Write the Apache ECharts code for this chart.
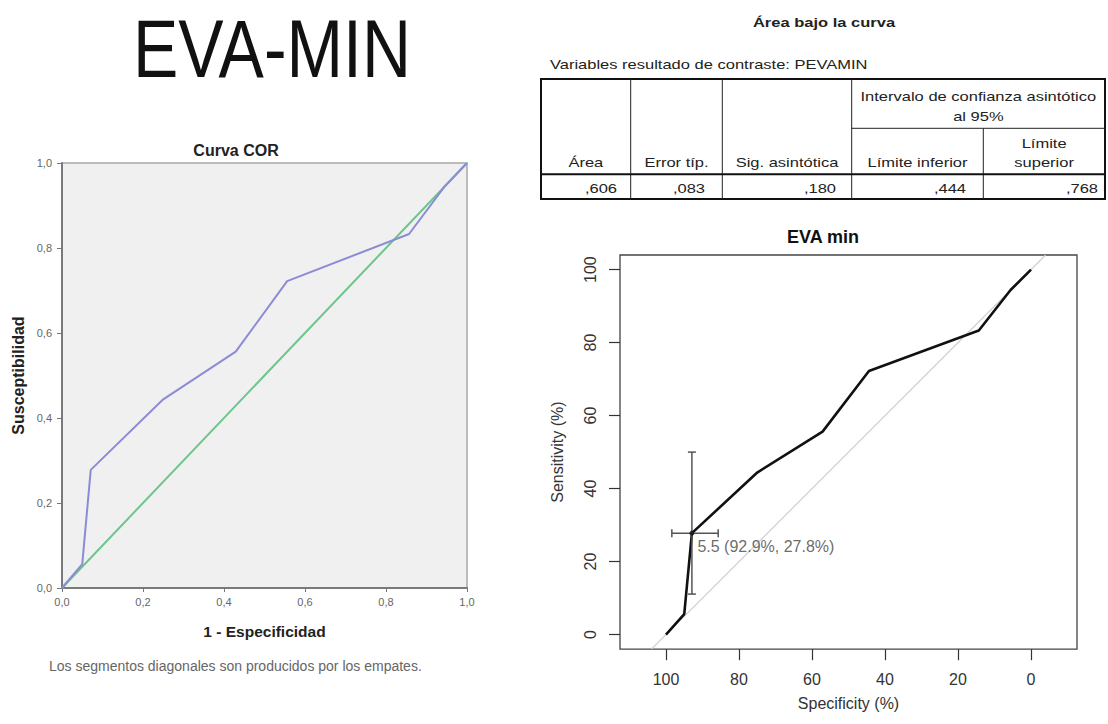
<!DOCTYPE html>
<html>
<head>
<meta charset="utf-8">
<script src="https://cdn.jsdelivr.net/npm/echarts@6/dist/echarts.min.js"></script>
<style>
  html, body { margin: 0; padding: 0; background: #ffffff; }
  #chart { width: 1108px; height: 724px; }
</style>
</head>
<body>
<div id="chart"></div>
<script>
// ROC curve of EVA min: specificity / sensitivity pairs (%)
const specificity = [100, 95, 92.9, 75, 57.1, 44.4, 14.3, 5.6, 0];
const sensitivity = [0, 5.6, 27.8, 44.4, 55.6, 72.2, 83.3, 94.4, 100];

// best threshold with its confidence intervals (%)
const bestThreshold = 5.5;
const bestSpec = 92.9;
const bestSens = 27.8;
const specCI = [85.7, 98.4];
const sensCI = [11.1, 50.0];

// chance lines
const chanceCorX = [0, 1];
const chanceCorY = [0, 1];
const chanceSpec = [104, -4];
const chanceSens = [-4, 104];

// tick values
const corTicks = [0, 0.2, 0.4, 0.6, 0.8, 1.0];
const specTicks = [100, 80, 60, 40, 20, 0];
const sensTicks = [0, 20, 40, 60, 80, 100];

// area under the curve table
const tableTitle = 'Área bajo la curva';
const tableSubtitle = 'Variables resultado de contraste: PEVAMIN';
const tableGroupHeader = ['Intervalo de confianza asintótico', 'al 95%'];
const tableHeaders = [['Área'], ['Error típ.'], ['Sig. asintótica'], ['Límite inferior'], ['Límite', 'superior']];
const tableValues = [0.606, 0.083, 0.180, 0.444, 0.768];

const SANS = '"Liberation Sans", Arial, sans-serif';
const fmtComma = (v, d) => v.toFixed(d).replace('.', ',');
const fmtTable = v => v.toFixed(3).replace(/^0\./, ',');

// width fitting for the big heading
function measure(text, font) {
  const ctx = document.createElement('canvas').getContext('2d');
  ctx.font = font;
  return ctx.measureText(text).width;
}
const headFont = '82px "Liberation Sans"';
const headScale = 278 / measure('EVA-MIN', headFont);

const chart = echarts.init(document.getElementById('chart'), null, { renderer: 'svg' });

// ---- table graphics ----
const tb = { bounds: [541, 630.7, 722.3, 851.7, 983.3, 1105], top: 79, sub: 128.3, div: 174.3, bottom: 199 };
const valueRight = [617, 705, 836, 966, 1098];
const TX = 1.27; // horizontal stretch of the table lettering
const tableEls = [];
tableEls.push({ type: 'rect', shape: { x: tb.bounds[0], y: tb.top, width: tb.bounds[5] - tb.bounds[0], height: tb.bottom - tb.top },
  style: { fill: 'none', stroke: '#111', lineWidth: 2 } });
[1, 2, 3].forEach(i => tableEls.push({ type: 'line',
  shape: { x1: tb.bounds[i], y1: tb.top, x2: tb.bounds[i], y2: tb.bottom }, style: { stroke: '#222', lineWidth: 1 } }));
tableEls.push({ type: 'line', shape: { x1: tb.bounds[4], y1: tb.sub, x2: tb.bounds[4], y2: tb.bottom }, style: { stroke: '#222', lineWidth: 1 } });
tableEls.push({ type: 'line', shape: { x1: tb.bounds[3], y1: tb.sub, x2: tb.bounds[5], y2: tb.sub }, style: { stroke: '#222', lineWidth: 1 } });
tableEls.push({ type: 'line', shape: { x1: tb.bounds[0], y1: tb.div, x2: tb.bounds[5], y2: tb.div }, style: { stroke: '#111', lineWidth: 2 } });

function tText(text, x, y, align, bold) {
  return { type: 'text', x: x, y: y, scaleX: TX,
    style: { text: text, fontFamily: SANS, fontSize: 13, fontWeight: bold ? 'bold' : 'normal',
      fill: '#222', align: align, verticalAlign: 'middle' } };
}
tableEls.push(tText(tableTitle, 824, 23, 'center', true));
tableEls.push(tText(tableSubtitle, 550, 65, 'left'));
const groupCx = (tb.bounds[3] + tb.bounds[5]) / 2;
tableGroupHeader.forEach((t, k) => tableEls.push(tText(t, groupCx, 96.7 + k * 20, 'center')));
tableHeaders.forEach((lines, i) => {
  const cx = (tb.bounds[i] + tb.bounds[i + 1]) / 2;
  lines.forEach((t, k) => tableEls.push(tText(t, cx, 162.3 - (lines.length - 1 - k) * 19, 'center')));
});
tableValues.forEach((v, i) => tableEls.push(tText(fmtTable(v), valueRight[i], 188.3, 'right')));

const option = {
  animation: false,
  backgroundColor: '#ffffff',
  grid: [
    { left: 62, top: 163, width: 405, height: 425, show: true, backgroundColor: '#f0f0f0', borderColor: '#a8a8a8', borderWidth: 1.5 },
    { left: 620, top: 255, width: 457, height: 394.2, show: true, backgroundColor: 'transparent', borderColor: '#444', borderWidth: 1.3 }
  ],
  xAxis: [
    {
      type: 'value', gridIndex: 0, min: 0, max: 1, interval: 0.2,
      axisLine: { show: true, onZero: false, lineStyle: { color: '#7a7a7a', width: 2 } },
      axisTick: { show: true, length: 4, lineStyle: { color: '#777' } },
      axisLabel: { formatter: v => fmtComma(v, 1), color: '#666', fontSize: 11, margin: 8, fontFamily: SANS, showMinLabel: true, showMaxLabel: true },
      splitLine: { show: false },
      name: '1 - Especificidad', nameLocation: 'middle', nameGap: 35,
      nameTextStyle: { fontFamily: SANS, fontWeight: 'bold', fontSize: 15.5, color: '#222' }
    },
    {
      type: 'value', gridIndex: 1, min: -12.6, max: 112.6, inverse: true,
      axisLine: { show: false, onZero: false },
      axisTick: { show: true, length: 11, customValues: specTicks, lineStyle: { color: '#333', width: 1.2 } },
      axisLabel: { customValues: specTicks, color: '#333', fontSize: 16, margin: 22, fontFamily: SANS },
      splitLine: { show: false },
      name: 'Specificity (%)', nameLocation: 'middle', nameGap: 46,
      nameTextStyle: { fontFamily: SANS, fontSize: 16, color: '#333' }
    }
  ],
  yAxis: [
    {
      type: 'value', gridIndex: 0, min: 0, max: 1, interval: 0.2,
      axisLine: { show: true, onZero: false, lineStyle: { color: '#7a7a7a', width: 2 } },
      axisTick: { show: true, length: 5, lineStyle: { color: '#777' } },
      axisLabel: { formatter: v => fmtComma(v, 1), color: '#666', fontSize: 11, margin: 10, fontFamily: SANS, showMinLabel: true, showMaxLabel: true },
      splitLine: { show: false },
      name: 'Susceptibilidad', nameLocation: 'middle', nameGap: 36,
      nameTextStyle: { fontFamily: SANS, fontWeight: 'bold', fontSize: 16, color: '#222' }
    },
    {
      type: 'value', gridIndex: 1, min: -4, max: 104,
      axisLine: { show: false, onZero: false },
      axisTick: { show: true, length: 11, customValues: sensTicks, lineStyle: { color: '#333', width: 1.2 } },
      axisLabel: { customValues: sensTicks, rotate: 90, color: '#333', fontSize: 16, margin: 22, fontFamily: SANS },
      splitLine: { show: false },
      name: 'Sensitivity (%)', nameLocation: 'middle', nameGap: 55,
      nameTextStyle: { fontFamily: SANS, fontSize: 16, color: '#333' }
    }
  ],
  series: [
    {
      name: 'Diagonal COR', type: 'line', xAxisIndex: 0, yAxisIndex: 0, symbol: 'none', z: 2,
      data: chanceCorX.map((x, i) => [x, chanceCorY[i]]),
      lineStyle: { color: '#6cc58b', width: 2 }
    },
    {
      name: 'Curva COR', type: 'line', xAxisIndex: 0, yAxisIndex: 0, symbol: 'none', z: 3,
      data: specificity.map((s, i) => [1 - s / 100, sensitivity[i] / 100]),
      lineStyle: { color: '#8b8bd6', width: 2 }
    },
    {
      name: 'Chance', type: 'line', xAxisIndex: 1, yAxisIndex: 1, symbol: 'none', z: 2,
      data: chanceSpec.map((s, i) => [s, chanceSens[i]]),
      lineStyle: { color: '#cfcfcf', width: 1.2 }
    },
    {
      name: 'EVA min', type: 'line', xAxisIndex: 1, yAxisIndex: 1, symbol: 'none', z: 4,
      data: specificity.map((s, i) => [s, sensitivity[i]]),
      lineStyle: { color: '#111', width: 2.6 }
    },
    {
      name: 'CI', type: 'custom', xAxisIndex: 1, yAxisIndex: 1, z: 5,
      data: [[bestSpec, bestSens, specCI[1], specCI[0], sensCI[0], sensCI[1]]],
      encode: { x: 0, y: 1 },
      renderItem: function (params, api) {
        const c = api.coord([api.value(0), api.value(1)]);
        const xl = api.coord([api.value(2), api.value(1)]);
        const xr = api.coord([api.value(3), api.value(1)]);
        const yl = api.coord([api.value(0), api.value(4)]);
        const yh = api.coord([api.value(0), api.value(5)]);
        const cap = 4;
        const st = { stroke: '#555', lineWidth: 1.5 };
        const ln = (x1, y1, x2, y2) => ({ type: 'line', shape: { x1, y1, x2, y2 }, style: st });
        return { type: 'group', children: [
          ln(xl[0], c[1], xr[0], c[1]),
          ln(xl[0], c[1] - cap, xl[0], c[1] + cap),
          ln(xr[0], c[1] - cap, xr[0], c[1] + cap),
          ln(c[0], yl[1], c[0], yh[1]),
          ln(c[0] - cap, yl[1], c[0] + cap, yl[1]),
          ln(c[0] - cap, yh[1], c[0] + cap, yh[1])
        ] };
      }
    },
    {
      name: 'Umbral', type: 'scatter', xAxisIndex: 1, yAxisIndex: 1, z: 6,
      symbol: 'circle', symbolSize: 5,
      itemStyle: { color: '#111' },
      data: [[bestSpec, bestSens]],
      label: {
        show: true, position: [8, 15.5], align: 'left', verticalAlign: 'middle',
        fontFamily: SANS, fontSize: 16, color: '#444',
        formatter: p => bestThreshold.toFixed(1) + ' (' + p.value[0].toFixed(1) + '%, ' + p.value[1].toFixed(1) + '%)'
      }
    }
  ],
  graphic: [
    { type: 'text', x: 272, y: 48.5, scaleX: headScale,
      style: { text: 'EVA-MIN', font: headFont, fill: '#111', align: 'center', verticalAlign: 'middle' } },
    { type: 'text', x: 236, y: 150,
      style: { text: 'Curva COR', fontFamily: SANS, fontWeight: 'bold', fontSize: 16, fill: '#222', align: 'center', verticalAlign: 'middle' } },
    { type: 'text', x: 49, y: 666,
      style: { text: 'Los segmentos diagonales son producidos por los empates.', fontFamily: SANS, fontSize: 14, fill: '#666', align: 'left', verticalAlign: 'middle' } },
    { type: 'text', x: 823, y: 237,
      style: { text: 'EVA min', fontFamily: SANS, fontWeight: 'bold', fontSize: 18, fill: '#111', align: 'center', verticalAlign: 'middle' } }
  ].concat(tableEls)
};

chart.setOption(option);
</script>
</body>
</html>
